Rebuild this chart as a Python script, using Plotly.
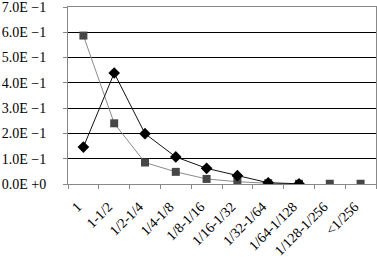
import plotly.graph_objects as go

categories = ["1", "1-1/2", "1/2-1/4", "1/4-1/8", "1/8-1/16", "1/16-1/32",
              "1/32-1/64", "1/64-1/128", "1/128-1/256", "<1/256"]
diamond_vals = [0.146, 0.439, 0.199, 0.107, 0.062, 0.033, 0.005, 0.001]
square_vals = [0.587, 0.240, 0.085, 0.048, 0.020, 0.009, 0.003, 0.001, 0.001, 0.001]
y_ticks = [0, 0.1, 0.2, 0.3, 0.4, 0.5, 0.6, 0.7]
y_labels = ["0.0E +0", "1.0E −1", "2.0E −1", "3.0E −1", "4.0E −1", "5.0E −1", "6.0E −1", "7.0E −1"]

n_line = len(diamond_vals)
fig = go.Figure()
fig.add_trace(go.Scatter(
    x=categories[:n_line], y=square_vals[:n_line], mode="lines+markers",
    line=dict(color="#8a8a8a", width=1),
    marker=dict(symbol="square", size=8, color="#474747"),
    showlegend=False))
fig.add_trace(go.Scatter(
    x=categories[n_line:], y=square_vals[n_line:], mode="markers",
    marker=dict(symbol="square", size=8, color="#474747"),
    showlegend=False))
fig.add_trace(go.Scatter(
    x=categories[:n_line], y=diamond_vals, mode="lines+markers",
    line=dict(color="#111111", width=1),
    marker=dict(symbol="diamond", size=9, color="#000000"),
    showlegend=False))

fig.update_layout(
    width=377, height=258,
    margin=dict(l=68, r=1, t=7, b=74),
    paper_bgcolor="white", plot_bgcolor="white",
    font=dict(family="Liberation Serif, Times New Roman, serif", size=13, color="black"),
    xaxis=dict(
        type="category", categoryorder="array", categoryarray=categories,
        range=[-0.5, len(categories) - 0.5], automargin=False,
        tickson="boundaries", ticks="outside", ticklen=4, tickcolor="#888888",
        showgrid=False, showline=True, linecolor="#888888", linewidth=1, mirror=True,
        tickangle=-45, tickfont=dict(size=14),
        ticklabelstandoff=8, ticklabelshift=-6,
    ),
    yaxis=dict(
        range=[0, 0.7], tickvals=y_ticks, ticktext=y_labels, automargin=False,
        showgrid=True, gridcolor="black", gridwidth=1,
        showline=True, linecolor="#888888", linewidth=1, mirror=True,
        ticks="outside", ticklen=4, tickcolor="#888888",
        zeroline=False, tickfont=dict(size=14), ticklabelstandoff=14,
        ticklabeloverflow="allow",
    ),
)
fig.write_html("out.html", post_script="document.body.style.margin='0';",
               config={"displayModeBar": False})
